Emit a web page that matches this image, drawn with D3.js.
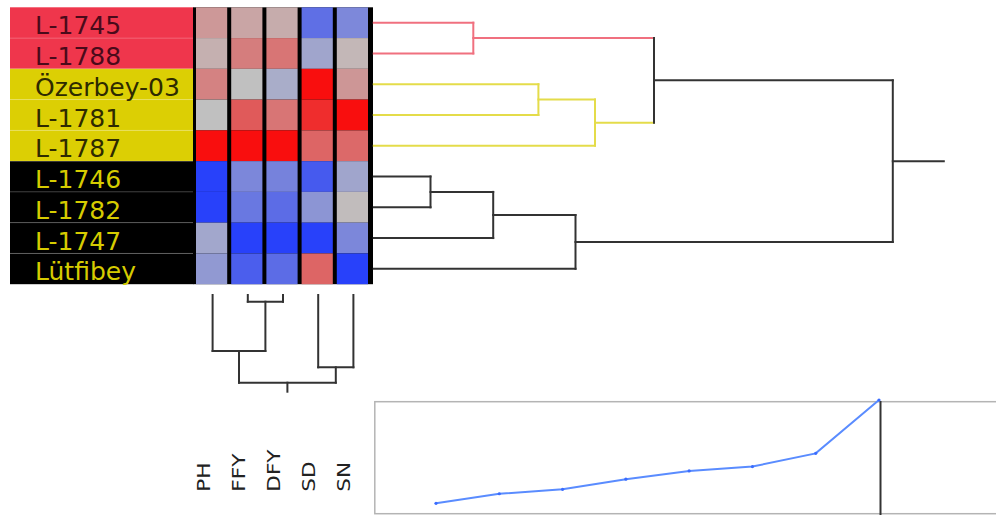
<!DOCTYPE html>
<html><head><meta charset="utf-8">
<script src="https://cdn.jsdelivr.net/npm/d3@7"></script>
<style>html,body{margin:0;padding:0;background:#fff;} svg{display:block;}</style>
</head><body>
<svg id="chart" width="996" height="515"></svg>
<script>
// ---------- DATA ----------
const rowLabels = ["L-1745","L-1788","Özerbey-03","L-1781","L-1787","L-1746","L-1782","L-1747","Lütfibey"];
const rowGroups = ["red","red","yellow","yellow","yellow","black","black","black","black"];
const colLabels = ["PH","FFY","DFY","SD","SN"];
// standardized values per column (rows in display order)
const valuesPH  = [0.22, 0.09, 0.34, 0.00, 0.98, -1.00, -1.00, -0.20, -0.31];
const valuesFFY = [0.15, 0.37, 0.00, 0.56, 0.98, -0.45, -0.57, -1.00, -0.77];
const valuesDFY = [0.11, 0.41, -0.15, 0.41, 0.98, -0.49, -0.66, -1.00, -0.66];
const valuesSD  = [-0.64, -0.21, 0.98, 0.81, 0.50, -0.80, -0.34, -1.00, 0.50];
const valuesSN  = [-0.44, 0.05, 0.23, 0.98, 0.48, -0.21, 0.02, -0.45, -1.00];
// row dendrogram merges (leaf indices 0-8, new nodes 9..16)
const rowMergeA      = [5, 0, 9, 2, 11, 12, 10, 15];
const rowMergeB      = [6, 1, 7, 3, 8, 4, 14, 13];
const rowMergeHeight = [0.567, 0.995, 1.194, 1.646, 2.017, 2.212, 2.802, 5.19];
const rowMergeGroup  = ["black","red","black","yellow","black","yellow","black","black"];
// column dendrogram merges (leaf indices 0-4, new nodes 5..8)
const colMergeA      = [1, 0, 3, 6];
const colMergeB      = [2, 5, 4, 7];
const colMergeHeight = [0.067, 0.56, 0.723, 0.877];

// ---------- SETUP ----------
const svg = d3.select("#chart");
const colValues = [valuesPH, valuesFFY, valuesDFY, valuesSD, valuesSN];
const y = d3.scaleBand().domain(d3.range(rowLabels.length)).range([7.3, 284.2]);
const x = d3.scaleBand().domain(colLabels).range([195, 371]);
const color = d3.scaleLinear().domain([-1, 0, 1]).range(["#2841fa", "#c0c0c0", "#fa0a0a"]);
const groupFill = {red: "#ef364c", yellow: "#dccf04", black: "#000000"};
const groupText = {red: "#4a0a1a", yellow: "#2e2a00", black: "#d6cc00"};
const groupLine = {red: "#f0707f", yellow: "#e4dc4a", black: "#333333"};

// ---------- ROW LABEL COLUMN ----------
const lab = svg.append("g");
lab.selectAll("rect").data(rowLabels).join("rect")
  .attr("x", 10).attr("y", (d, i) => y(i))
  .attr("width", 183.5).attr("height", y.bandwidth())
  .attr("fill", (d, i) => groupFill[rowGroups[i]]);
lab.selectAll("line").data(d3.range(1, rowLabels.length)).join("line")
  .attr("x1", 10).attr("x2", 193).attr("y1", i => y(i)).attr("y2", i => y(i))
  .attr("stroke", "rgba(255,255,255,0.18)").attr("stroke-width", 1);
lab.selectAll("text").data(rowLabels).join("text")
  .attr("x", 35).attr("y", (d, i) => y(i) + 27)
  .attr("font-family", "DejaVu Sans").attr("font-size", 25)
  .attr("fill", (d, i) => groupText[rowGroups[i]])
  .text(d => d);

// ---------- HEATMAP ----------
svg.append("rect").attr("x", 193).attr("y", y(0)).attr("width", 180)
  .attr("height", y.range()[1] - y.range()[0]).attr("fill", "#000");
const cells = [];
colLabels.forEach((c, j) => rowLabels.forEach((r, i) => cells.push({i, c, v: colValues[j][i]})));
svg.append("g").selectAll("rect").data(cells).join("rect")
  .attr("x", d => x(d.c) + 1).attr("width", x.bandwidth() - 4)
  .attr("y", d => y(d.i)).attr("height", y.bandwidth())
  .attr("fill", d => color(d.v));

// ---------- ROW DENDROGRAM ----------
const hx = d3.scaleLinear().domain([0, d3.max(rowMergeHeight)]).range([373.8, 892.8]);
const rNodes = rowLabels.map((d, i) => ({y: y(i) + y.bandwidth() / 2, h: 0, group: rowGroups[i]}));
const rSegs = [];
rowMergeA.forEach((a, k) => {
  const A = rNodes[a], B = rNodes[rowMergeB[k]], h = rowMergeHeight[k], g = rowMergeGroup[k];
  rSegs.push({x1: hx(A.h), x2: hx(h), y1: A.y, y2: A.y, g: A.group});
  rSegs.push({x1: hx(B.h), x2: hx(h), y1: B.y, y2: B.y, g: B.group});
  rSegs.push({x1: hx(h), x2: hx(h), y1: A.y, y2: B.y, g: g});
  rNodes.push({y: (A.y + B.y) / 2, h: h, group: g});
});
const rRoot = rNodes[rNodes.length - 1];
rSegs.push({x1: hx(rRoot.h), x2: hx(rRoot.h) + 51, y1: rRoot.y, y2: rRoot.y, g: "black"});
svg.append("g").selectAll("line").data(rSegs).join("line")
  .attr("x1", d => d.x1).attr("x2", d => d.x2).attr("y1", d => d.y1).attr("y2", d => d.y2)
  .attr("stroke", d => groupLine[d.g]).attr("stroke-width", 2).attr("stroke-linecap", "square");

// ---------- COLUMN DENDROGRAM ----------
const cy = d3.scaleLinear().domain([0, d3.max(colMergeHeight)]).range([295, 382.7]);
const cNodes = colLabels.map(c => ({x: x(c) + x.bandwidth() / 2, h: 0}));
const cSegs = [];
colMergeA.forEach((a, k) => {
  const A = cNodes[a], B = cNodes[colMergeB[k]], h = colMergeHeight[k];
  cSegs.push({x1: A.x, x2: A.x, y1: cy(A.h), y2: cy(h)});
  cSegs.push({x1: B.x, x2: B.x, y1: cy(B.h), y2: cy(h)});
  cSegs.push({x1: A.x, x2: B.x, y1: cy(h), y2: cy(h)});
  cNodes.push({x: (A.x + B.x) / 2, h: h});
});
const cRoot = cNodes[cNodes.length - 1];
cSegs.push({x1: cRoot.x, x2: cRoot.x, y1: cy(cRoot.h), y2: cy(cRoot.h) + 9});
svg.append("g").selectAll("line").data(cSegs).join("line")
  .attr("x1", d => d.x1).attr("x2", d => d.x2).attr("y1", d => d.y1).attr("y2", d => d.y2)
  .attr("stroke", "#333").attr("stroke-width", 2).attr("stroke-linecap", "square");

// column labels
svg.append("g").selectAll("text").data(colLabels).join("text")
  .attr("transform", c => `translate(${x(c) + x.bandwidth() / 2 - 3},491.7) rotate(-90) scale(1.2,1)`)
  .attr("font-family", "DejaVu Sans").attr("font-size", 18).attr("fill", "#222")
  .text(c => c);

// ---------- FUSION LEVEL LINE CHART ----------
const lx = d3.scalePoint().domain(d3.range(rowMergeHeight.length)).range([436, 879]);
const ly = d3.scaleLinear().domain([0, d3.max(rowMergeHeight)]).range([516, 400]);
svg.append("rect").attr("x", 374.8).attr("y", 401.7).attr("width", 700).attr("height", 112)
  .attr("fill", "none").attr("stroke", "#b4b4b4").attr("stroke-width", 1.5);
svg.append("line").attr("x1", lx(rowMergeHeight.length - 1) + 1.5).attr("x2", lx(rowMergeHeight.length - 1) + 1.5)
  .attr("y1", 401).attr("y2", 515).attr("stroke", "#333").attr("stroke-width", 2);
svg.append("path").datum(rowMergeHeight)
  .attr("d", d3.line().x((d, i) => lx(i)).y(d => ly(d)))
  .attr("fill", "none").attr("stroke", "#5a8cff").attr("stroke-width", 2);
svg.append("g").selectAll("circle").data(rowMergeHeight).join("circle")
  .attr("cx", (d, i) => lx(i)).attr("cy", d => ly(d)).attr("r", 1.6).attr("fill", "#3a6cff");
</script>
</body></html>
